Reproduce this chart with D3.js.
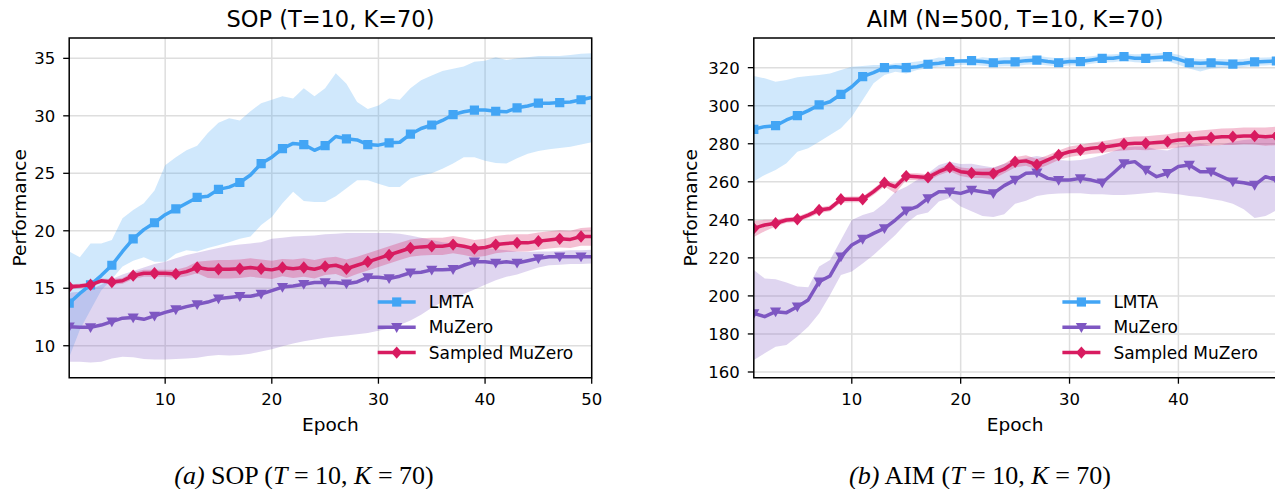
<!DOCTYPE html>
<html>
<head>
<meta charset="utf-8">
<style>
    body { margin: 0; background: #fff; }
    svg text { font-family: "DejaVu Sans", sans-serif; fill: #000; }
    .grid line { stroke: #dedede; stroke-width: 1.5; }
    .caption { font-family: "Liberation Serif", "Times New Roman", serif; font-size: 26px; }
</style>
</head>
<body>
<svg width="1275" height="489"></svg>
<script src="https://cdn.jsdelivr.net/npm/d3@7/dist/d3.min.js"></script>
<script>
// ---- data: SOP (T=10, K=70), epochs 1..50
var sopEpochs = d3.range(1, 51);
var sopLmta = [13.7,14.55,15.3,16.1,17.0,18.2,19.3,20.1,20.7,21.4, 21.9,22.4,22.9,23.0,23.6,23.8,24.2,24.85,25.85,26.4,
    27.15,27.6,27.5,27.0,27.4,28.2,28.0,27.9,27.5,27.45, 27.65,27.7,28.4,28.9,29.2,29.6,30.1,30.35,30.5,30.5,
    30.4,30.35,30.7,30.85,31.1,31.1,31.15,31.2,31.4,31.6];
var sopLmtaHi = [18.2,17.7,18.9,18.9,19.2,21.1,21.8,22.4,23.5,25.7, 26.4,27.0,27.4,28.5,29.4,29.8,29.6,30.4,31.1,31.4,
    31.7,31.5,32.4,31.7,32.4,33.7,32.8,31.2,30.6,30.9, 31.5,31.4,32.4,33.1,33.5,33.9,34.1,34.3,34.7,34.8,
    35.1,34.85,35.0,35.1,35.2,35.2,35.2,35.3,35.4,35.45];
var sopLmtaLo = [9.0,11.4,13.1,14.8,15.8,16.9,17.4,17.7,17.3,17.3, 18.0,18.3,18.2,18.5,18.75,19.0,19.3,19.5,20.5,21.2,
    22.4,23.4,22.6,22.5,22.5,23.0,23.7,24.4,24.4,24.1, 23.8,23.8,24.55,24.8,25.0,25.4,25.85,26.4,26.4,26.1,
    25.9,25.85,26.3,26.7,26.95,27.1,27.2,27.3,27.5,27.7];
var sopMu = [11.65,11.6,11.6,11.8,12.1,12.4,12.45,12.3,12.6,12.9, 13.15,13.4,13.6,13.8,14.1,14.2,14.3,14.3,14.5,14.8,
    15.1,15.2,15.35,15.5,15.5,15.5,15.4,15.55,15.95,15.95, 15.85,16.05,16.35,16.4,16.6,16.6,16.65,17.0,17.3,17.3,
    17.2,17.3,17.2,17.4,17.6,17.75,17.75,17.75,17.75,17.75];
var sopMuHi = [14.6,14.7,14.9,15.3,15.8,16.2,16.5,16.8,17.1,17.3, 17.6,17.9,18.1,18.3,18.5,18.7,18.8,18.9,19.0,19.3,
    19.4,19.5,19.55,19.6,19.7,19.75,19.8,19.8,19.8,19.8, 19.8,19.75,19.6,19.4,19.2,19.0,18.9,18.7,18.6,18.5,
    18.4,18.3,18.2,18.15,18.2,18.2,18.25,18.3,18.3,18.35];
var sopMuLo = [8.6,8.6,8.55,8.6,8.9,9.05,9.0,8.85,8.8,8.8, 8.85,8.9,8.95,9.1,9.2,9.15,9.2,9.3,9.5,9.7,
    9.95,10.2,10.4,10.55,10.7,10.8,10.9,11.0,11.1,11.3, 11.5,11.8,12.2,12.7,13.3,13.8,14.1,14.5,14.9,15.3,
    15.7,16.0,16.2,16.5,16.8,17.0,17.05,17.1,17.1,17.15];
var sopSamp = [15.13,15.2,15.3,15.65,15.55,15.65,16.1,16.3,16.3,16.3, 16.25,16.45,16.8,16.65,16.65,16.65,16.7,16.8,16.7,16.6,
    16.8,16.7,16.8,16.65,16.9,17.0,16.7,17.0,17.3,17.6, 17.9,18.2,18.5,18.6,18.65,18.65,18.8,18.65,18.45,18.55,
    18.8,18.9,18.95,18.95,19.1,19.2,19.3,19.25,19.5,19.5];
var sopSampHi = [15.35,15.4,15.5,15.85,15.8,15.9,16.4,16.6,16.6,16.6, 16.6,16.85,17.3,17.4,17.45,17.45,17.5,17.6,17.5,17.4,
    17.55,17.5,17.6,17.45,17.65,17.75,17.5,17.75,18.05,18.35, 18.65,18.95,19.25,19.35,19.4,19.4,19.55,19.4,19.2,19.3,
    19.55,19.65,19.7,19.7,19.85,19.95,20.05,20.0,20.25,20.3];
var sopSampLo = [14.9,15.0,15.1,15.45,15.3,15.4,15.8,16.0,16.0,16.0, 15.9,16.05,16.3,15.9,15.85,15.85,15.9,16.0,15.9,15.8,
    16.05,15.9,16.0,15.85,16.15,16.25,15.9,16.25,16.55,16.85, 17.15,17.45,17.75,17.85,17.9,17.9,18.05,17.9,17.7,17.8,
    18.05,18.15,18.2,18.2,18.35,18.45,18.55,18.5,18.7,18.7];

// ---- data: AIM (N=500, T=10, K=70), epochs 1..49
var aimEpochs = d3.range(1, 50);
var aimLmta = [287.6,289,289.5,292.5,294.8,297.4,300.4,302.1,306,310, 315.3,317.4,320,320.5,320,320.5,321.8,322.3,323.2,323.5,
    323.7,323.2,322.6,323,323,323.7,324,323.2,322.6,323.2, 323.2,324,324.9,324.9,325.8,324.9,324.9,325.4,325.8,324.4,
    322.6,322.3,322.6,322.3,321.9,322.3,323,323.2,323.5];
var aimLmtaHi = [315.6,314.4,312.6,313.5,315,315.6,316.2,317,318.8,320.5, 320.9,321.4,321.4,322.3,322.6,323.2,324,325.4,324.9,324.4,
    324.4,325.5,325,325.5,325.5,326,326.3,325.5,325,325.3, 325.5,326,326.8,327,327.5,327,327.2,327.6,328,326.8,
    325,324.5,324.6,324.5,324.3,324.6,325.2,325.4,325.6];
var aimLmtaLo = [260.1,263.6,266.2,269.7,275.8,277.6,281.1,284.6,288.1,294.2, 303,311.8,316.2,317.9,317,318.8,319.7,320.5,320.9,321.4,
    321.5,321,320.5,320.8,320.8,321.5,321.8,321.2,320.6,321.2, 321.2,322,322.8,322.8,323.6,322.8,322.6,323,323.4,321.5,
    319.5,318,319.5,320,320,320.3,321,321.2,321.5];
var aimMu = [190.8,189.1,191.7,191.2,194.3,197.9,207.5,210.5,220.6,226.8, 229.9,232.9,235.5,239.9,244.8,246.9,251.3,254.8,254.8,253.9,
    255.7,254.8,253.9,258,261,264.5,264.8,261.8,260.9,260.9, 261.8,260.9,259.5,264.5,269.7,270.6,266.2,262.7,264.5,268,
    268.8,265.3,265.3,262.7,260.1,259.5,258.3,262.7,260.9];
var aimMuHi = [213.6,209.2,208.7,207,204.9,204.5,215.4,218.9,229.4,239.9, 242.5,244.3,248.7,254.8,257.4,261,264.5,268.8,270.6,269.4,
    269.5,268.5,267.5,269.5,271,272.5,273.5,272.5,271.5,271, 271.5,272.5,274,276,278,278.5,278.5,277,276.5,278.5,
    279.5,280,279,279.5,281,282,282.5,283,282.5];
var aimMuLo = [166.3,169.8,173.3,174.2,178.6,183.8,190.8,200.5,211,212.8, 217.1,221.5,226.8,232,238.2,242.5,243.8,249.6,251.5,247,
    244.5,242,241.5,243,248.5,250,252.5,253.5,253.8,254, 254,253.5,253.5,253,253,253.5,254,254.5,254,253.5,
    252.5,252,251,250,248.5,245.5,241,242,245];
var aimSamp = [235.5,237.3,238.2,239.9,240.3,242.5,245.2,246,250.8,250.8, 250.8,254.8,259.5,257.4,263,262.7,262.3,265.3,267.6,265.3,
    264.6,264.3,264.3,266.6,270.5,271,269,271.5,274.1,275.8, 276.7,277.6,278.1,279,279.9,280.2,280.2,280.6,281.1,282,
    282.3,282.9,283.2,283.7,283.7,284.1,284.1,283.7,284.1];
var aimSampHi = [239.5,240,240,241.2,241.8,243.8,246.5,247.5,252,252.3, 252.3,256.5,261,259.5,264.5,264.5,264,267,269.5,267.5,
    267,267,267.2,269.5,273,274,272,274,276.5,278.5, 279.5,280.5,281.3,282.3,283.3,283.8,284,284.5,285,286,
    286.5,287,287.5,288,288.1,288.5,288.6,288.5,289];
var aimSampLo = [231,234,236.5,238.5,238.8,241,243.5,244.5,249,249.3, 249.3,253,257.5,254,261,260.8,260.5,263.5,265.5,263,
    262,262,261.5,264.5,267.5,268.5,266.5,268.8,271.5,273, 274,274.8,275.2,276,276.5,276.8,276.6,277,277.3,278,
    278.3,278.8,279,279.3,279.3,279.7,279.6,279,279.3];

var seriesNames = ["LMTA", "MuZero", "Sampled MuZero"];
var colors = ["#42A5F5", "#7E57C2", "#D81B60"];
var markers = [
    "M-4.6,-4.6H4.6V4.6H-4.6Z",          // square
    "M-5.6,-4.2L5.6,-4.2L0,5.6Z",        // triangle down
    "M0,-6.2L5.4,0L0,6.2L-5.4,0Z"        // diamond
];

var svg = d3.select("svg");
var plotTop = 38, plotBottom = 377.7;

function panel(p) {
    var x = d3.scaleLinear().domain(p.xDomain).range([p.left, p.right]);
    var y = d3.scaleLinear().domain(p.yDomain).range([plotBottom, plotTop]);
    var g = svg.append("g");

    g.append("clipPath").attr("id", p.id)
        .append("rect").attr("x", p.left).attr("y", plotTop)
        .attr("width", p.right - p.left).attr("height", plotBottom - plotTop);

    var grid = g.append("g").attr("class", "grid");
    grid.selectAll(".gx").data(p.xTicks).enter().append("line")
        .attr("x1", function(d) { return x(d); }).attr("x2", function(d) { return x(d); })
        .attr("y1", plotTop).attr("y2", plotBottom);
    grid.selectAll(".gy").data(p.yTicks).enter().append("line")
        .attr("x1", p.left).attr("x2", p.right)
        .attr("y1", function(d) { return y(d); }).attr("y2", function(d) { return y(d); });

    var plot = g.append("g").attr("clip-path", "url(#" + p.id + ")");

    var area = d3.area()
        .x(function(d) { return x(d.e); })
        .y0(function(d) { return y(d.lo); })
        .y1(function(d) { return y(d.hi); });
    var line = d3.line()
        .x(function(d) { return x(d.e); })
        .y(function(d) { return y(d.v); });

    var rows = p.series.map(function(s, k) {
        return p.epochs.map(function(e, i) {
            return { e: e, v: s.mean[i], hi: s.hi[i], lo: s.lo[i], k: k };
        });
    });

    rows.forEach(function(r, k) {
        plot.append("path").datum(r).attr("d", area)
            .attr("fill", colors[k]).attr("fill-opacity", k === 2 ? 0.28 : 0.25);
    });
    rows.forEach(function(r, k) {
        plot.append("path").datum(r).attr("d", line)
            .attr("fill", "none").attr("stroke", colors[k])
            .attr("stroke-width", 3.5).attr("stroke-linejoin", "round");
        plot.selectAll(".m" + k).data(r.filter(function(d, i) { return i % 2 === 0; }))
            .enter().append("path")
            .attr("d", markers[k]).attr("fill", colors[k])
            .attr("transform", function(d) { return "translate(" + x(d.e) + "," + y(d.v) + ")"; });
    });

    // spines
    g.append("path")
        .attr("d", "M" + p.left + "," + plotTop + "H" + p.right + "V" + plotBottom + "H" + p.left + "Z")
        .attr("fill", "none").attr("stroke", "#000").attr("stroke-width", 1.5);

    // ticks
    var tk = g.append("g");
    tk.selectAll(".tx").data(p.xTicks).enter().append("line")
        .attr("x1", function(d) { return x(d); }).attr("x2", function(d) { return x(d); })
        .attr("y1", plotBottom).attr("y2", plotBottom + 6)
        .attr("stroke", "#000").attr("stroke-width", 1.3);
    tk.selectAll(".lx").data(p.xTicks).enter().append("text")
        .attr("x", function(d) { return x(d); }).attr("y", 405)
        .attr("text-anchor", "middle").style("font-size", "16.5px")
        .text(function(d) { return d; });
    tk.selectAll(".ty").data(p.yTicks).enter().append("line")
        .attr("x1", p.left - 6).attr("x2", p.left)
        .attr("y1", function(d) { return y(d); }).attr("y2", function(d) { return y(d); })
        .attr("stroke", "#000").attr("stroke-width", 1.3);
    tk.selectAll(".ly").data(p.yTicks).enter().append("text")
        .attr("x", p.left - 14).attr("y", function(d) { return y(d); })
        .attr("dy", "0.36em")
        .attr("text-anchor", "end").style("font-size", "16.5px")
        .text(function(d) { return d; });

    // labels
    var cx = (p.left + p.right) / 2;
    g.append("text").attr("x", cx).attr("y", 27).attr("text-anchor", "middle")
        .style("font-size", "22.5px").text(p.title);
    g.append("text").attr("x", cx).attr("y", 431).attr("text-anchor", "middle")
        .style("font-size", "18.5px").text("Epoch");
    g.append("text")
        .attr("transform", "translate(" + (p.left - p.ylabelGap) + "," + ((plotTop + plotBottom) / 2) + ") rotate(-90)")
        .attr("text-anchor", "middle").style("font-size", "18.5px").text("Performance");

    // legend
    var lg = g.append("g").attr("transform", "translate(" + (p.right - 214) + ",302)");
    seriesNames.forEach(function(name, k) {
        var row = lg.append("g").attr("transform", "translate(0," + (k * 25.3) + ")");
        row.append("line").attr("x1", 0).attr("x2", 38).attr("y1", 0).attr("y2", 0)
            .attr("stroke", colors[k]).attr("stroke-width", 3.5);
        row.append("path").attr("d", markers[k]).attr("fill", colors[k])
            .attr("transform", "translate(19,0)");
        row.append("text").attr("x", 51).attr("y", 0).attr("dy", "0.36em")
            .style("font-size", "17px").text(name);
    });
}

panel({
    id: "clipSop", left: 69.2, right: 591.7, ylabelGap: 43.5,
    xDomain: [1, 50], yDomain: [7.22, 36.77],
    xTicks: [10, 20, 30, 40, 50], yTicks: [10, 15, 20, 25, 30, 35],
    title: "SOP (T=10, K=70)", epochs: sopEpochs,
    series: [
        { mean: sopLmta, hi: sopLmtaHi, lo: sopLmtaLo },
        { mean: sopMu, hi: sopMuHi, lo: sopMuLo },
        { mean: sopSamp, hi: sopSampHi, lo: sopSampLo }
    ]
});

panel({
    id: "clipAim", left: 753.8, right: 1276.4, ylabelGap: 56.5,
    xDomain: [1, 49], yDomain: [157.0, 335.6],
    xTicks: [10, 20, 30, 40], yTicks: [160, 180, 200, 220, 240, 260, 280, 300, 320],
    title: "AIM (N=500, T=10, K=70)", epochs: aimEpochs,
    series: [
        { mean: aimLmta, hi: aimLmtaHi, lo: aimLmtaLo },
        { mean: aimMu, hi: aimMuHi, lo: aimMuLo },
        { mean: aimSamp, hi: aimSampHi, lo: aimSampLo }
    ]
});

// sub-figure captions
function caption(cx, letter, name) {
    var t = svg.append("text").attr("class", "caption")
        .attr("x", cx).attr("y", 484).attr("text-anchor", "middle");
    t.append("tspan").style("font-style", "italic").text("(" + letter + ")");
    t.append("tspan").text(" " + name + " (");
    t.append("tspan").style("font-style", "italic").text("T");
    t.append("tspan").text(" = 10, ");
    t.append("tspan").style("font-style", "italic").text("K");
    t.append("tspan").text(" = 70)");
}
caption(304, "a", "SOP");
caption(980, "b", "AIM");
</script>
</body>
</html>
